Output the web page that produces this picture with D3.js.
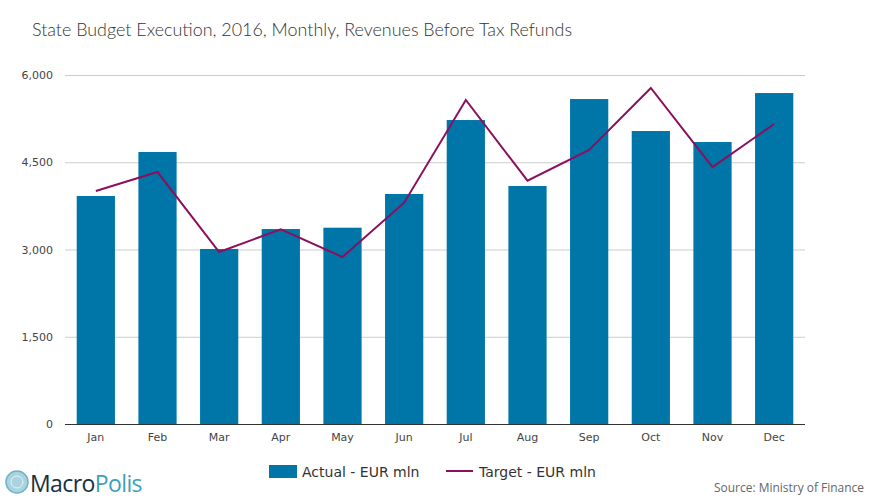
<!DOCTYPE html>
<html>
<head>
<meta charset="utf-8">
<script src="https://cdn.jsdelivr.net/npm/d3@7"></script>
<style>
  body { margin: 0; background: #fff; }
  svg { display: block; }
</style>
</head>
<body>
<svg id="chart" width="870" height="500"></svg>
<script>
// values, EUR mln
const months = ["Jan", "Feb", "Mar", "Apr", "May", "Jun", "Jul", "Aug", "Sep", "Oct", "Nov", "Dec"];
const actual = [3920, 4676, 3009, 3352, 3375, 3954, 5226, 4092, 5587, 5037, 4848, 5690];
const target = [4006, 4332, 2957, 3347, 2871, 3805, 5570, 4183, 4711, 5777, 4418, 5157];
const yTicks = [0, 1500, 3000, 4500, 6000];

const barColor = "#0076a8";
const lineColor = "#8c0f5e";

const svg = d3.select("#chart");

const x = d3.scaleBand()
  .domain(months)
  .range([65, 805])
  .paddingInner(0.38)
  .paddingOuter(0.19);

const y = d3.scaleLinear()
  .domain([0, 6000])
  .range([424, 75]);

// title
svg.append("text")
  .attr("x", 32)
  .attr("y", 36)
  .attr("font-family", "Lato, 'Open Sans', sans-serif")
  .attr("font-size", 18)
  .attr("font-weight", 300)
  .attr("fill", "#333")
  .attr("textLength", 540)
  .attr("lengthAdjust", "spacingAndGlyphs")
  .text("State Budget Execution, 2016, Monthly, Revenues Before Tax Refunds");

// gridlines + y labels
const yAxis = d3.axisLeft(y)
  .tickValues(yTicks)
  .tickSize(-740)
  .tickPadding(12)
  .tickFormat(d3.format(","));

const gy = svg.append("g")
  .attr("transform", "translate(65,0)")
  .call(yAxis);
gy.select(".domain").remove();
gy.selectAll(".tick line").attr("stroke", "#cccccc");
gy.selectAll(".tick text")
  .attr("font-family", "'DejaVu Sans', Verdana, sans-serif")
  .attr("font-size", 11)
  .attr("fill", "#444");

// bars
svg.append("g")
  .selectAll("rect")
  .data(actual)
  .enter()
  .append("rect")
  .attr("x", (d, i) => x(months[i]))
  .attr("width", x.bandwidth())
  .attr("y", d => y(d))
  .attr("height", d => y(0) - y(d))
  .attr("fill", barColor);

// x axis
const gx = svg.append("g")
  .attr("transform", "translate(0,424)")
  .call(d3.axisBottom(x).tickSize(0).tickPadding(9));
gx.select(".domain").attr("stroke", "#333").attr("d", "M65,0.5H805");
gx.selectAll(".tick text")
  .attr("font-family", "'DejaVu Sans', Verdana, sans-serif")
  .attr("font-size", 11)
  .attr("fill", "#444");

// target line
const line = d3.line()
  .x((d, i) => x(months[i]) + x.bandwidth() / 2)
  .y(d => y(d));

svg.append("path")
  .datum(target)
  .attr("d", line)
  .attr("fill", "none")
  .attr("stroke", lineColor)
  .attr("stroke-width", 2);

// legend
const legend = svg.append("g");
legend.append("rect")
  .attr("x", 269).attr("y", 465)
  .attr("width", 28).attr("height", 13)
  .attr("fill", barColor);
legend.append("text")
  .attr("x", 302).attr("y", 477)
  .attr("font-family", "'DejaVu Sans', Verdana, sans-serif")
  .attr("font-size", 14)
  .attr("fill", "#333")
  .text("Actual - EUR mln");
legend.append("line")
  .attr("x1", 446).attr("x2", 473)
  .attr("y1", 471).attr("y2", 471)
  .attr("stroke", lineColor)
  .attr("stroke-width", 2);
legend.append("text")
  .attr("x", 479).attr("y", 477)
  .attr("font-family", "'DejaVu Sans', Verdana, sans-serif")
  .attr("font-size", 14)
  .attr("fill", "#333")
  .text("Target - EUR mln");

// logo
const logo = svg.append("g");
logo.append("circle")
  .attr("cx", 17).attr("cy", 482).attr("r", 11)
  .attr("fill", "#a9d3df")
  .attr("stroke", "#6fb3c9")
  .attr("stroke-width", 1.5);
logo.append("circle")
  .attr("cx", 17).attr("cy", 482).attr("r", 6)
  .attr("fill", "none")
  .attr("stroke", "#e8f4f8")
  .attr("stroke-width", 1);
const logoText = logo.append("text")
  .attr("x", 30).attr("y", 492)
  .attr("font-family", "'Open Sans', sans-serif")
  .attr("font-size", 23)
  .attr("letter-spacing", -0.6);
logoText.append("tspan").attr("fill", "#17303f").text("Macro");
logoText.append("tspan").attr("fill", "#3d9fbe").text("Polis");

// source
svg.append("text")
  .attr("x", 864).attr("y", 492)
  .attr("text-anchor", "end")
  .attr("font-family", "'Liberation Sans Narrow', 'Open Sans', sans-serif")
  .attr("font-size", 12)
  .attr("fill", "#666")
  .attr("textLength", 150)
  .attr("lengthAdjust", "spacingAndGlyphs")
  .text("Source: Ministry of Finance");
</script>
</body>
</html>
